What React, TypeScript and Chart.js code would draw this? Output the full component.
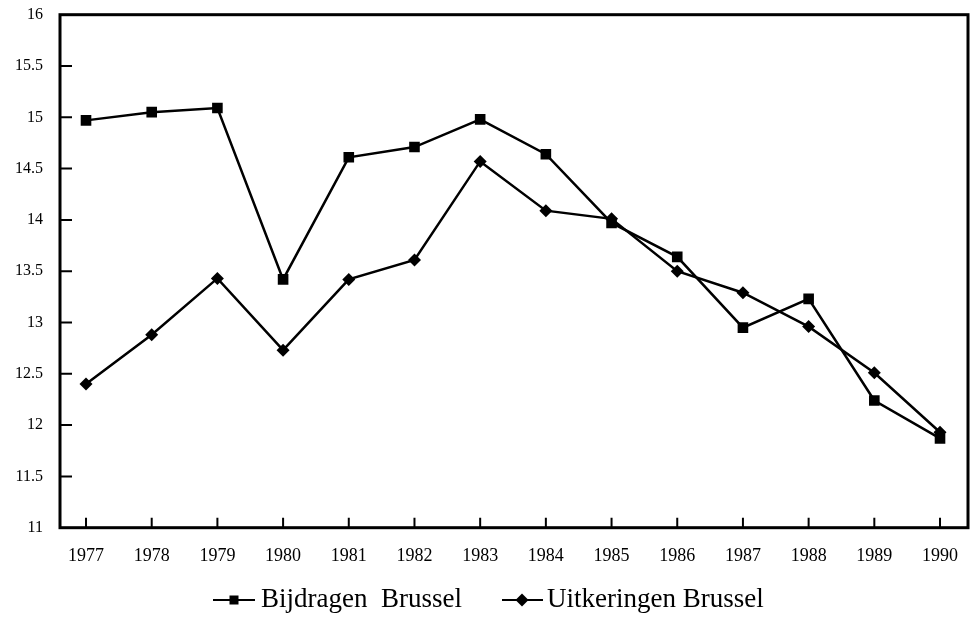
import React, { useEffect, useRef } from "react";
import { Chart, registerables } from "chart.js";

Chart.register(...registerables);

const years = [1977, 1978, 1979, 1980, 1981, 1982, 1983, 1984, 1985, 1986, 1987, 1988, 1989, 1990];
const bijdragen = [14.97, 15.05, 15.09, 13.42, 14.61, 14.71, 14.98, 14.64, 13.97, 13.64, 12.95, 13.23, 12.24, 11.87];
const uitkeringen = [12.40, 12.88, 13.43, 12.73, 13.42, 13.61, 14.57, 14.09, 14.01, 13.50, 13.29, 12.96, 12.51, 11.93];
const yTicks = [11, 11.5, 12, 12.5, 13, 13.5, 14, 14.5, 15, 15.5, 16];
const seriesNames = ["Bijdragen  Brussel", "Uitkeringen Brussel"];

const FONT = '"Liberation Serif", "Times New Roman", serif';

const framePlugin = {
  id: "frame",
  afterDraw(chart: any) {
    const { ctx, chartArea } = chart;
    const { left, right, top, bottom } = chartArea;
    const xs = chart.scales.x;
    const ys = chart.scales.y;
    ctx.save();
    ctx.strokeStyle = "#000";
    ctx.lineCap = "butt";
    // box
    ctx.lineWidth = 3;
    ctx.strokeRect(left, top, right - left, bottom - top);
    // ticks
    ctx.lineWidth = 2;
    ctx.beginPath();
    years.forEach((yr) => {
      const px = xs.getPixelForValue(yr);
      ctx.moveTo(px, bottom);
      ctx.lineTo(px, bottom - 10);
    });
    yTicks.forEach((v) => {
      if (v === 11 || v === 16) return;
      const py = ys.getPixelForValue(v);
      ctx.moveTo(left, py);
      ctx.lineTo(left + 12, py);
    });
    ctx.stroke();

    // legend
    const ly = 600;
    ctx.lineWidth = 2;
    ctx.fillStyle = "#000";
    // item 1
    ctx.beginPath();
    ctx.moveTo(213, ly);
    ctx.lineTo(255, ly);
    ctx.stroke();
    ctx.fillRect(234 - 4.5, ly - 4.5, 9, 9);
    // item 2
    ctx.beginPath();
    ctx.moveTo(502, ly);
    ctx.lineTo(543, ly);
    ctx.stroke();
    ctx.beginPath();
    ctx.moveTo(522, ly - 6.5);
    ctx.lineTo(528.5, ly);
    ctx.lineTo(522, ly + 6.5);
    ctx.lineTo(515.5, ly);
    ctx.closePath();
    ctx.fill();
    ctx.font = "27px " + FONT;
    ctx.textBaseline = "alphabetic";
    ctx.textAlign = "left";
    ctx.fillText(seriesNames[0], 261, 607);
    ctx.fillText(seriesNames[1], 547, 607);
    ctx.restore();
  },
};

export default function App() {
  const ref = useRef<HTMLCanvasElement | null>(null);

  useEffect(() => {
    if (!ref.current) return;
    const chart = new Chart(ref.current, {
      type: "line",
      data: {
        datasets: [
          {
            label: seriesNames[0],
            data: years.map((y, i) => ({ x: y, y: bijdragen[i] })),
            borderColor: "#000",
            backgroundColor: "#000",
            borderWidth: 2.5,
            pointStyle: "rect",
            pointRadius: 7.5,
            pointBorderWidth: 0,
            tension: 0,
          },
          {
            label: seriesNames[1],
            data: years.map((y, i) => ({ x: y, y: uitkeringen[i] })),
            borderColor: "#000",
            backgroundColor: "#000",
            borderWidth: 2.5,
            pointStyle: "rectRot",
            pointRadius: 6.5,
            pointBorderWidth: 0,
            tension: 0,
          },
        ],
      },
      options: {
        animation: false,
        responsive: false,
        devicePixelRatio: 1,
        layout: { padding: { top: 14.7, right: 9, left: 0, bottom: 0 } },
        plugins: {
          legend: { display: false },
          tooltip: { enabled: false },
          title: { display: false },
        },
        scales: {
          x: {
            type: "linear",
            min: 1976.604,
            max: 1990.426,
            grid: { display: false, drawTicks: false },
            border: { display: false },
            afterBuildTicks: (s: any) => {
              s.ticks = years.map((v) => ({ value: v }));
            },
            afterFit: (s: any) => {
              s.height = 617 - 527.7;
              s.paddingLeft = 0;
              s.paddingRight = 0;
            },
            ticks: {
              autoSkip: false,
              maxRotation: 0,
              padding: 18,
              color: "#000",
              font: { family: FONT, size: 18 },
              callback: (v: any) => String(v),
            },
          },
          y: {
            min: 11,
            max: 16,
            grid: { display: false, drawTicks: false },
            border: { display: false },
            afterBuildTicks: (s: any) => {
              s.ticks = yTicks.map((v) => ({ value: v }));
            },
            afterFit: (s: any) => {
              s.width = 60;
              s.paddingTop = 0;
              s.paddingBottom = 0;
            },
            ticks: {
              padding: 17,
              color: "#000",
              font: { family: FONT, size: 16 },
              callback: (v: any) => String(v),
            },
          },
        },
      },
      plugins: [framePlugin],
    } as any);
    return () => chart.destroy();
  }, []);

  return (
    <div style={{ position: "absolute", left: 0, top: 0, width: 977, height: 617, background: "#fff" }}>
      <canvas ref={ref} width={977} height={617} style={{ width: 977, height: 617, display: "block" }} />
    </div>
  );
}
